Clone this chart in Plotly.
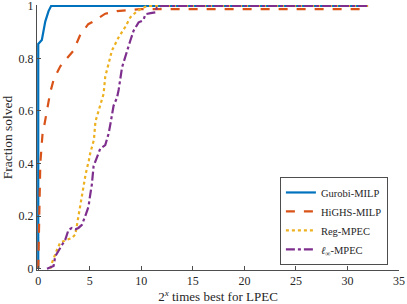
import plotly.graph_objects as go

names = ["Gurobi-MILP", "HiGHS-MILP", "Reg-MPEC", "<i>ℓ</i><sub>∞</sub>-MPEC"]
colors = ["#0072BD", "#D95319", "#EDB120", "#7E2F8E"]
dashes = ["solid", "dash", "dot", "dashdot"]

gurobi_x = [0, 0, 0.35, 0.68, 1.0, 1.26, 32]
gurobi_y = [0, 0.855, 0.87, 0.94, 0.98, 1.0, 1.0]

highs_x = [0, 0.05, 0.1, 0.2, 0.42, 0.5, 0.84, 1.16, 1.5, 2.14, 3.43, 4.08, 4.85, 5.2, 6.5, 7.64, 9.9, 32]
highs_y = [0, 0.15, 0.29, 0.4, 0.515, 0.526, 0.60, 0.67, 0.72, 0.77, 0.83, 0.89, 0.93, 0.937, 0.97, 0.98, 0.987, 0.987]

reg_x = [1.17, 1.4, 1.8, 2.14, 2.8, 3.27, 3.6, 3.9, 4.24, 4.6, 4.9, 5.05, 5.4, 5.55, 5.85, 6.34, 6.5, 7.15, 7.8, 8.45, 8.93, 9.6, 10.55, 32]
reg_y = [0, 0.03, 0.07, 0.10, 0.11, 0.117, 0.13, 0.2, 0.29, 0.36, 0.41, 0.44, 0.49, 0.56, 0.60, 0.665, 0.73, 0.83, 0.88, 0.92, 0.956, 0.98, 1.0, 1.0]

linf_x = [0.85, 1.49, 1.65, 1.97, 2.3, 2.62, 2.94, 3.27, 3.6, 3.9, 4.24, 4.56, 4.88, 5.0, 5.2, 5.37, 5.7, 6.02, 6.5, 6.83, 7.0, 7.16, 7.31, 7.64, 7.8, 8.13, 8.6, 8.93, 9.25, 9.74, 10.2, 10.4, 10.9, 11.4, 11.5, 12.0, 32]
linf_y = [0, 0.01, 0.047, 0.07, 0.09, 0.11, 0.148, 0.155, 0.15, 0.155, 0.167, 0.2, 0.236, 0.27, 0.32, 0.39, 0.425, 0.457, 0.47, 0.514, 0.55, 0.59, 0.62, 0.65, 0.68, 0.766, 0.83, 0.867, 0.905, 0.937, 0.945, 0.968, 0.972, 0.975, 0.993, 1.0, 1.0]

xs = [gurobi_x, highs_x, reg_x, linf_x]
ys = [gurobi_y, highs_y, reg_y, linf_y]

x_ticks = [0, 5, 10, 15, 20, 25, 30, 35]
y_ticks = [0, 0.2, 0.4, 0.6, 0.8, 1]
y_tick_labels = ["0", "0.2", "0.4", "0.6", "0.8", "1"]

fig = go.Figure()
for n, c, d, x, y in zip(names, colors, dashes, xs, ys):
    fig.add_trace(go.Scatter(x=x, y=y, mode="lines", name=n,
                             line=dict(color=c, width=2.2, dash=d)))

font_family = "Liberation Serif"
axis_col = "#4d4d4d"
txt_col = "#262626"
fig.update_layout(
    width=407, height=304,
    margin=dict(l=37, r=8, t=5, b=34),
    paper_bgcolor="white", plot_bgcolor="white",
    font=dict(family=font_family, size=12, color=txt_col),
    xaxis=dict(range=[-0.12, 35], tickvals=x_ticks, ticks="inside", ticklen=4,
               tickcolor=axis_col, showline=True, linecolor=axis_col, linewidth=1,
               showgrid=False, zeroline=False, automargin=False,
               ticklabeloverflow="allow",
               tickfont=dict(family=font_family, size=12, color=txt_col),
               title=dict(text="2<sup><i>x</i></sup> times best for LPEC",
                          font=dict(family=font_family, size=13))),
    yaxis=dict(range=[-0.005, 1.003], tickvals=y_ticks, ticktext=y_tick_labels, ticks="inside",
               ticklen=4, tickcolor=axis_col, showline=True, linecolor=axis_col, linewidth=1,
               showgrid=False, zeroline=False, automargin=False,
               ticklabeloverflow="allow",
               tickfont=dict(family=font_family, size=12, color=txt_col),
               title=dict(text="Fraction solved",
                          font=dict(family=font_family, size=13.5))),
    legend=dict(x=0.671, y=0.019, xanchor="left", yanchor="bottom",
                bgcolor="white", bordercolor=axis_col, borderwidth=1,
                font=dict(family=font_family, size=10.5, color=txt_col), tracegroupgap=0,
                itemwidth=30),
    showlegend=True,
)

fig.write_html("out.html", config={"displayModeBar": False},
               post_script="document.body.style.margin='0';document.body.style.padding='0';")
